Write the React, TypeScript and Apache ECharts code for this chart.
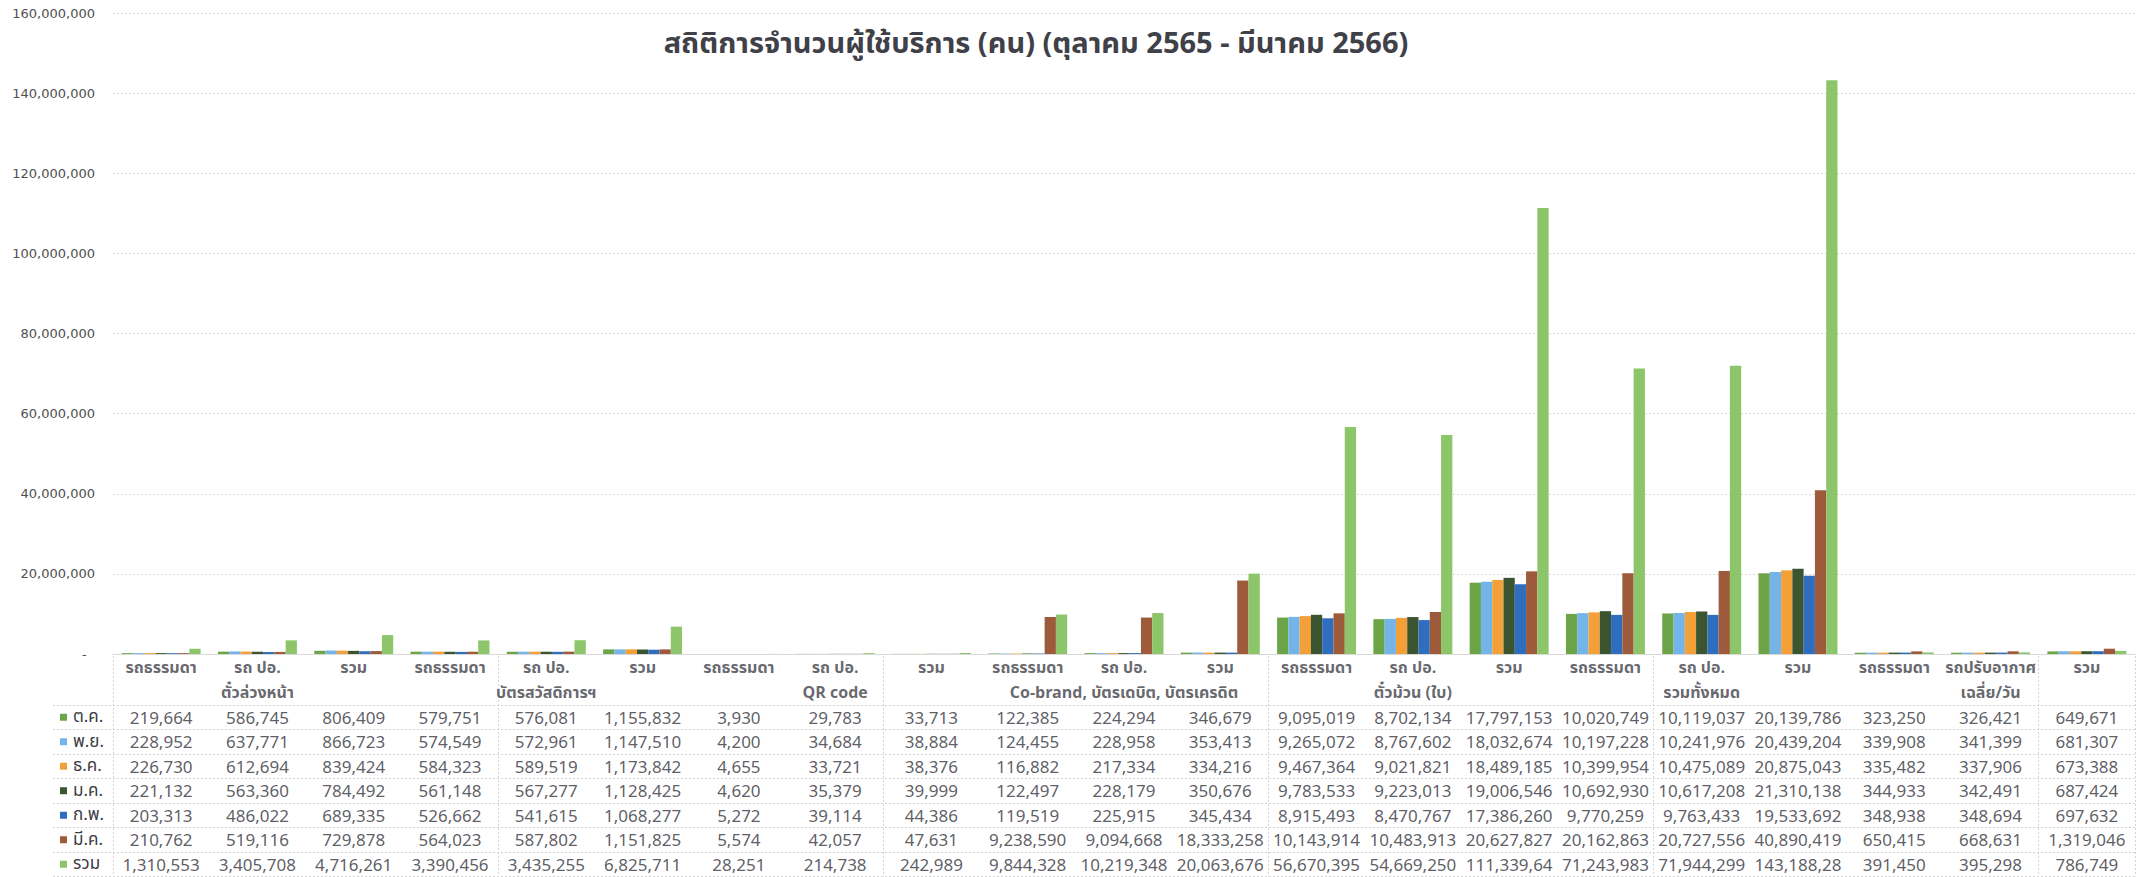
import React, { useEffect, useRef } from 'react';
import * as echarts from 'echarts';

const chartTitle = 'สถิติการจำนวนผู้ใช้บริการ (คน) (ตุลาคม 2565 - มีนาคม 2566)';

const groupNames = [
  'ตั๋วล่วงหน้า',
  'บัตรสวัสดิการฯ',
  'QR code',
  'Co-brand, บัตรเดบิต, บัตรเครดิต',
  'ตั๋วม้วน (ใบ)',
  'รวมทั้งหมด',
  'เฉลี่ย/วัน',
];

const subCategories = [
  'รถธรรมดา', 'รถ ปอ.', 'รวม',
  'รถธรรมดา', 'รถ ปอ.', 'รวม',
  'รถธรรมดา', 'รถ ปอ.', 'รวม',
  'รถธรรมดา', 'รถ ปอ.', 'รวม',
  'รถธรรมดา', 'รถ ปอ.', 'รวม',
  'รถธรรมดา', 'รถ ปอ.', 'รวม',
  'รถธรรมดา', 'รถปรับอากาศ', 'รวม',
];

const seriesNames = ['ต.ค.', 'พ.ย.', 'ธ.ค.', 'ม.ค.', 'ก.พ.', 'มี.ค.', 'รวม'];

const octValues = [219664, 586745, 806409, 579751, 576081, 1155832, 3930, 29783, 33713, 122385, 224294, 346679, 9095019, 8702134, 17797153, 10020749, 10119037, 20139786, 323250, 326421, 649671];
const novValues = [228952, 637771, 866723, 574549, 572961, 1147510, 4200, 34684, 38884, 124455, 228958, 353413, 9265072, 8767602, 18032674, 10197228, 10241976, 20439204, 339908, 341399, 681307];
const decValues = [226730, 612694, 839424, 584323, 589519, 1173842, 4655, 33721, 38376, 116882, 217334, 334216, 9467364, 9021821, 18489185, 10399954, 10475089, 20875043, 335482, 337906, 673388];
const janValues = [221132, 563360, 784492, 561148, 567277, 1128425, 4620, 35379, 39999, 122497, 228179, 350676, 9783533, 9223013, 19006546, 10692930, 10617208, 21310138, 344933, 342491, 687424];
const febValues = [203313, 486022, 689335, 526662, 541615, 1068277, 5272, 39114, 44386, 119519, 225915, 345434, 8915493, 8470767, 17386260, 9770259, 9763433, 19533692, 348938, 348694, 697632];
const marValues = [210762, 519116, 729878, 564023, 587802, 1151825, 5574, 42057, 47631, 9238590, 9094668, 18333258, 10143914, 10483913, 20627827, 20162863, 20727556, 40890419, 650415, 668631, 1319046];
const totalValues = [1310553, 3405708, 4716261, 3390456, 3435255, 6825711, 28251, 214738, 242989, 9844328, 10219348, 20063676, 56670395, 54669250, 111339645, 71243983, 71944299, 143188282, 391450, 395298, 786749];

const yMin = 0;
const yMax = 160000000;
const yInterval = 20000000;

const seriesColors = ['#6BA547', '#74B4E8', '#F4A038', '#3A5530', '#2F6DBE', '#9E5B3B', '#8CC56A'];

const allValues = [octValues, novValues, decValues, janValues, febValues, marValues, totalValues];

const thaiFont = "'Noto Sans Thai', 'Noto Sans', Tahoma, sans-serif";
const numFont = "'Liberation Sans Narrow', 'Noto Sans', sans-serif";

// Excel-like cell: a number wider than the column gets clipped
const cellText = (v: number) => {
  const s = v.toLocaleString('en-US');
  return s.length > 10 ? s.slice(0, 10) : s;
};

export default function App() {
  const ref = useRef<HTMLDivElement>(null);

  useEffect(() => {
    document.body.style.margin = '0';
    if (!ref.current) return;
    const chart = echarts.init(ref.current, undefined, { renderer: 'svg' });

    const catKeys = subCategories.map((s, i) => `${groupNames[Math.floor(i / 3)]} ${s}`);
    const rowKeys = ['h1', 'h2', ...seriesNames.map((_n, i) => `r${i}`)];

    const headerData = subCategories.map((s, i) => ({ value: [i, 0], name: s }));
    const groupData = groupNames.map((g, i) => ({ value: [i * 3 + 1, 1], name: g }));
    const cellData: any[] = [];
    allValues.forEach((vals, r) => {
      vals.forEach((v, c) => {
        cellData.push({ value: [c, r + 2], name: cellText(v) });
      });
    });

    const rich: any = {
      t: { fontFamily: thaiFont, fontSize: 17, color: '#3c3c44', padding: [0, 0, 0, 6] },
    };
    seriesColors.forEach((c, i) => {
      rich[`sq${i}`] = { width: 7, height: 7, backgroundColor: c };
    });

    const splitDash = { show: true, lineStyle: { color: '#d4d4d4', type: [2, 2] as any, width: 1 } };

    const option: any = {
      animation: false,
      backgroundColor: '#ffffff',
      title: {
        text: chartTitle,
        left: 1036,
        textAlign: 'center',
        top: 29,
        padding: 0,
        textStyle: { fontFamily: thaiFont, fontSize: 29, fontWeight: 'bold', color: '#404048' },
      },
      grid: [
        { left: 113, right: 4, top: 13, bottom: 223 },
        { left: 113, right: 4, top: 656, height: 220.5 },
        { left: 53, width: 60, top: 656, height: 220.5 },
      ],
      xAxis: [
        {
          type: 'category',
          gridIndex: 0,
          data: catKeys,
          axisLabel: { show: false },
          axisTick: { show: false },
          axisLine: { show: true, lineStyle: { color: '#d9d9d9' } },
        },
        {
          type: 'category',
          gridIndex: 1,
          data: catKeys,
          axisLabel: { show: false },
          axisTick: { show: false },
          axisLine: { show: false },
          splitLine: splitDash,
        },
        {
          type: 'category',
          gridIndex: 2,
          data: ['legend'],
          axisLabel: { show: false },
          axisTick: { show: false },
          axisLine: { show: false },
        },
      ],
      yAxis: [
        {
          type: 'value',
          gridIndex: 0,
          min: yMin,
          max: yMax,
          interval: yInterval,
          axisLine: { show: false },
          axisTick: { show: false },
          axisLabel: {
            margin: 18,
            fontFamily: "'DejaVu Sans', sans-serif",
            fontSize: 13,
            color: '#505050',
            formatter: (v: number) => (v === 0 ? '-  ' : v.toLocaleString('en-US')),
          },
          splitLine: { show: true, lineStyle: { color: '#dadada', type: [2, 2], width: 1 } },
        },
        {
          type: 'category',
          gridIndex: 1,
          inverse: true,
          data: rowKeys,
          axisLabel: { show: false },
          axisTick: { show: false },
          axisLine: { show: false },
          splitLine: { ...splitDash, interval: (index: number) => index >= 2 },
        },
        {
          type: 'category',
          gridIndex: 2,
          inverse: true,
          data: rowKeys,
          axisTick: { show: false },
          axisLine: { show: false },
          splitLine: { ...splitDash, interval: (index: number) => index >= 2 },
          axisLabel: {
            inside: true,
            margin: 7,
            formatter: (_v: string, idx: number) =>
              idx >= 2 ? `{sq${idx - 2}|}{t|${seriesNames[idx - 2]}}` : '',
            rich,
          },
        },
      ],
      series: [
        ...seriesNames.map((name, i) => ({
          name,
          type: 'bar',
          xAxisIndex: 0,
          yAxisIndex: 0,
          data: allValues[i],
          barGap: '0%',
          barCategoryGap: '18%',
          itemStyle: { color: seriesColors[i] },
        })),
        {
          type: 'scatter',
          xAxisIndex: 1,
          yAxisIndex: 1,
          symbolSize: 1,
          silent: true,
          itemStyle: { color: 'rgba(0,0,0,0)' },
          data: headerData,
          label: {
            show: true,
            position: 'inside',
            formatter: '{b}',
            fontFamily: thaiFont,
            fontSize: 16,
            fontWeight: 'bold',
            color: '#404048',
          },
        },
        {
          type: 'scatter',
          xAxisIndex: 1,
          yAxisIndex: 1,
          symbolSize: 1,
          silent: true,
          itemStyle: { color: 'rgba(0,0,0,0)' },
          data: groupData,
          label: {
            show: true,
            position: 'inside',
            formatter: '{b}',
            fontFamily: thaiFont,
            fontSize: 16,
            fontWeight: 'bold',
            color: '#404048',
          },
        },
        {
          type: 'scatter',
          xAxisIndex: 1,
          yAxisIndex: 1,
          symbolSize: 1,
          silent: true,
          itemStyle: { color: 'rgba(0,0,0,0)' },
          data: cellData,
          label: {
            show: true,
            position: 'inside',
            formatter: '{b}',
            fontFamily: numFont,
            fontSize: 17,
            color: '#33333b',
          },
        },
      ],
    };

    chart.setOption(option);
    return () => chart.dispose();
  }, []);

  return <div ref={ref} style={{ width: 2139, height: 877 }} />;
}
